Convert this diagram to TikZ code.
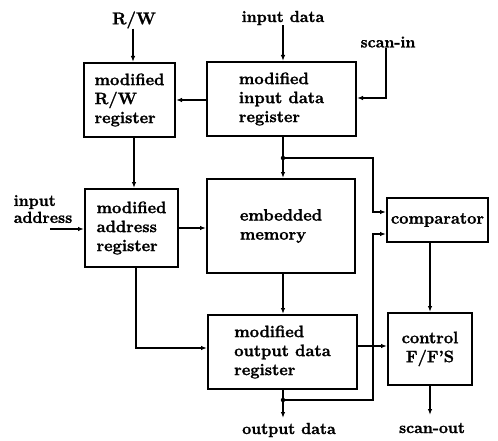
\documentclass[tikz,border=0pt]{standalone}
\usepackage{fontspec}
\setmainfont{Latin Modern Roman}[BoldFeatures={FakeBold=1.5}]
\usetikzlibrary{arrows.meta}
\begin{document}
\begin{tikzpicture}[x=1pt,y=-1pt,
  box/.style={draw,line width=2pt,rectangle,inner sep=0pt,align=left,
    font=\fontsize{16.5}{19}\selectfont\bfseries},
  lab/.style={inner sep=0pt,align=left,font=\fontsize{16}{17}\selectfont\bfseries},
  conn/.style={line width=1.3pt},
  arr/.style={conn,-{Latex[length=6pt,width=4.5pt]}},
  dot/.style={circle,fill,inner sep=0pt,minimum size=4.5pt}]
\useasboundingbox (0,0) rectangle (498,441);
% boxes
\node[box,minimum width=91pt,minimum height=74pt] (rw) at (129.5,100) {modified\\R/W\\register};
\node[box,minimum width=149pt,minimum height=74pt] (ind) at (281.5,99) {modified\\input data\\register};
\node[box,minimum width=93pt,minimum height=78pt] (adr) at (131.5,228) {modified\\address\\register};
\node[box,minimum width=148pt,minimum height=94pt] (mem) at (281,226) {embedded\\memory\phantom{j}};
\node[box,minimum width=149pt,minimum height=74pt] (outr) at (282.5,352) {modified\\output data\\register};
\node[box,minimum width=101pt,minimum height=44pt] (cmp) at (437.5,220) {comparator};
\node[box,minimum width=84pt,minimum height=72pt,align=center] (ctl) at (430,349) {control\\F/F'S};
% labels
\node[lab,font=\fontsize{17}{18}\selectfont\bfseries] (rwl) at (134,20) {R/W};
\node[lab] (indl) at (283,18) {input data};
\node[lab] (scl) at (388,42) {scan-in};
\node[lab] (adl) at (43,209) {input\\address};
\node[lab] (outl) at (289,430) {output data};
\node[lab] (sol) at (432,428) {scan-out};
% coordinates
\coordinate (adin) at (50,229);
\coordinate (j1) at (283,158);
\coordinate (j2) at (283,400);
\coordinate (odend) at (283,418);
\coordinate (soend) at (430,415);
\coordinate (c1) at (373,158);
\coordinate (c2) at (373,400);
% connectors
\draw[arr] (rwl.south -| 133,0) -- (133,0 |- rw.north);
\draw[arr] (indl.south -| 283,0) -- (283,0 |- ind.north);
\draw[arr] (scl.south -| 386,0) |- (ind.east |- 0,98);
\draw[arr] (ind.west |- 0,100) -- (rw.east |- 0,100);
\draw[arr] (rw.south -| 134,0) -- (134,0 |- adr.north);
\draw[arr] (adin) -- (adr.west |- adin);
\draw[arr] (adr.east |- 0,228) -- (mem.west |- 0,228);
\draw[arr] (adr.south -| 136,0) |- (outr.west |- 0,348);
\draw[arr] (ind.south -| j1) -- (j1 |- mem.north);
\node[dot] (d1) at (j1) {};
\draw[arr] (d1.center) -- (c1) |- (cmp.west |- 0,212);
\draw[arr] (mem.south -| j1) -- (j1 |- outr.north);
\draw[arr] (outr.east |- 0,346) -- (ctl.west |- 0,346);
\draw[arr] (outr.south -| j2) -- (odend);
\node[dot] (d2) at (j2) {};
\draw[arr] (d2.center) -- (c2) |- (cmp.west |- 0,234);
\draw[arr] (cmp.south -| 430,0) -- (430,0 |- ctl.north);
\draw[arr] (ctl.south -| soend) -- (soend);
\end{tikzpicture}
\end{document}
